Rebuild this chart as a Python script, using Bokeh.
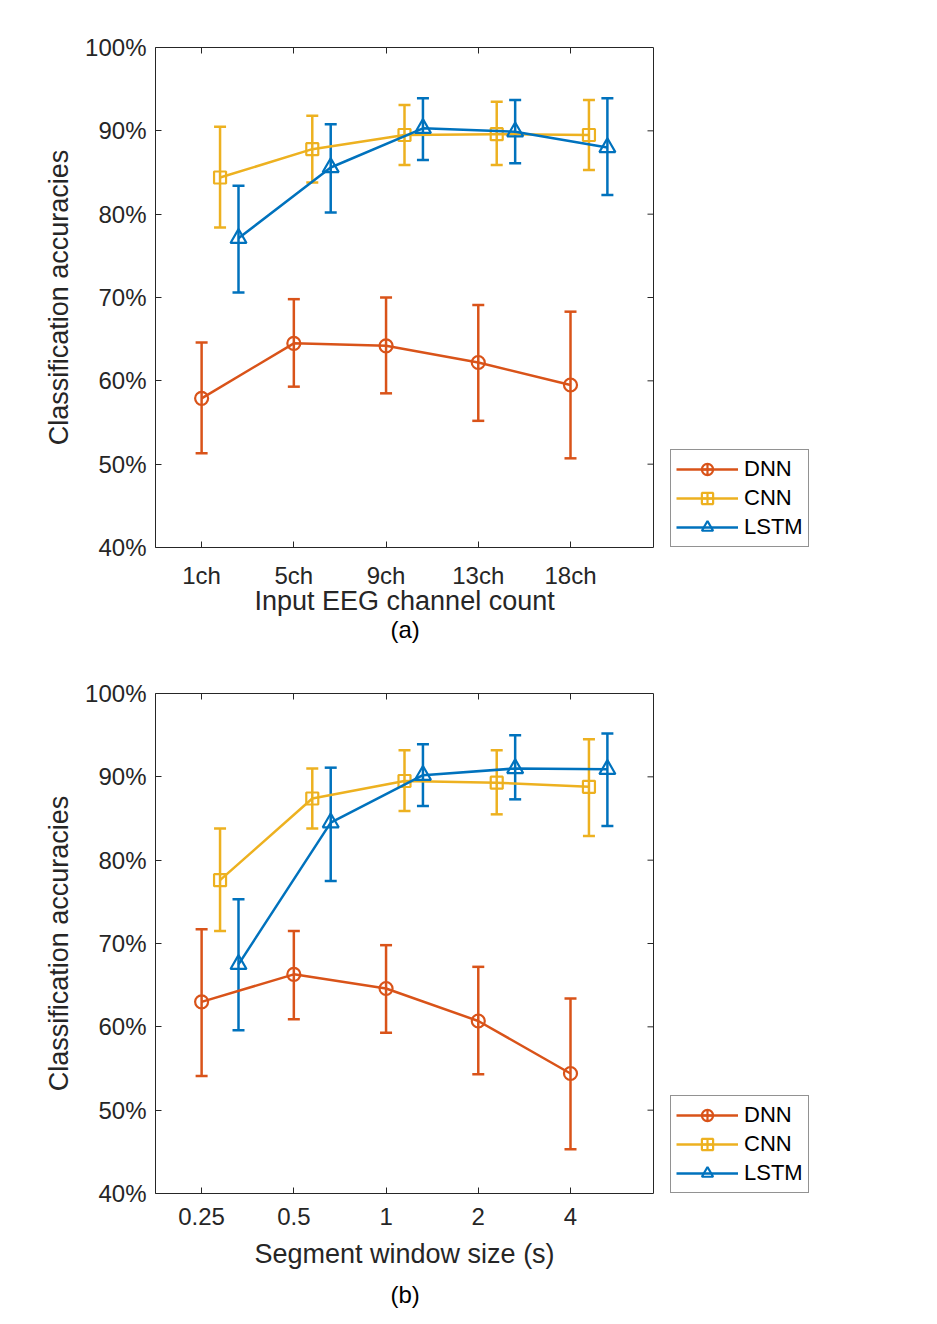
import math
from bokeh.plotting import figure
from bokeh.models import (ColumnDataSource, Whisker, TeeHead, FixedTicker, Range1d,
                          LinearAxis, Legend, LegendItem, Title, PrintfTickFormatter,
                          CustomJSTickFormatter)
from bokeh.layouts import column
from bokeh.embed import file_html
from bokeh.resources import INLINE

# ---------------- data ----------------
positions = [1, 2, 3, 4, 5]
series_names = ["DNN", "CNN", "LSTM"]

labels_a = ["1ch", "5ch", "9ch", "13ch", "18ch"]
dnn_a = [57.9, 64.5, 64.2, 62.2, 59.5]
dnn_a_lo = [51.3, 59.3, 58.5, 55.2, 50.7]
dnn_a_hi = [64.6, 69.8, 70.0, 69.1, 68.3]
cnn_a = [84.4, 87.8, 89.5, 89.6, 89.5]
cnn_a_lo = [78.4, 83.8, 85.9, 85.9, 85.3]
cnn_a_hi = [90.5, 91.8, 93.1, 93.5, 93.7]
lstm_a = [77.1, 85.6, 90.3, 89.9, 88.0]
lstm_a_lo = [70.6, 80.2, 86.5, 86.1, 82.3]
lstm_a_hi = [83.4, 90.8, 93.9, 93.7, 93.9]

labels_b = ["0.25", "0.5", "1", "2", "4"]
dnn_b = [63.0, 66.3, 64.6, 60.7, 54.4]
dnn_b_lo = [54.1, 60.9, 59.3, 54.3, 45.3]
dnn_b_hi = [71.7, 71.5, 69.8, 67.2, 63.4]
cnn_b = [77.6, 87.4, 89.5, 89.3, 88.8]
cnn_b_lo = [71.5, 83.8, 85.9, 85.5, 82.9]
cnn_b_hi = [83.8, 91.0, 93.2, 93.2, 94.5]
lstm_b = [67.5, 84.5, 90.2, 91.0, 90.9]
lstm_b_lo = [59.6, 77.5, 86.5, 87.3, 84.1]
lstm_b_hi = [75.3, 91.1, 93.9, 95.0, 95.2]

y_ticks = [40, 50, 60, 70, 80, 90, 100]
offsets = [0.0, 0.2, 0.4]
colors = ["#D95319", "#EDB120", "#0072BD"]
markers = ["circle", "square", "triangle"]
legend_markers = ["circle_cross", "square_cross", "triangle"]
marker_sizes = [13, 12, 16]

FONT = "Liberation Sans"
AX = "#262626"

X0, X1 = 0.5, 5.9          # axes box limits
BOX_W, FRAME_W = 498, 660  # box width in px, frame width incl. legend area
X_END = X0 + (X1 - X0) * FRAME_W / BOX_W
NAN = float("nan")


def make_panel(labels, xlabel, tag, series, top_border, bottom_border,
               xlabel_standoff, tag_standoff):
    p = figure(frame_width=FRAME_W, frame_height=500,
               x_range=Range1d(X0, X_END), y_range=Range1d(40, 100),
               output_backend="svg", toolbar_location=None,
               min_border_left=155, min_border_right=10,
               min_border_top=top_border, min_border_bottom=bottom_border)
    p.xgrid.visible = False
    p.ygrid.visible = False
    p.outline_line_color = None
    p.background_fill_color = "white"
    p.border_fill_color = "white"

    # main axes
    p.xaxis.ticker = FixedTicker(ticks=positions)
    p.xaxis.bounds = (X0, X1)
    p.xaxis.major_label_overrides = {pos: lab for pos, lab in zip(positions, labels)}
    p.yaxis.ticker = FixedTicker(ticks=y_ticks)
    p.yaxis.formatter = PrintfTickFormatter(format="%d%%")
    for ax in (p.xaxis[0], p.yaxis[0]):
        ax.axis_line_color = AX
        ax.major_tick_line_color = AX
        ax.major_tick_in = 6
        ax.major_tick_out = 0
        ax.minor_tick_line_color = None
        ax.major_label_text_font = FONT
        ax.major_label_text_font_size = "24px"
        ax.major_label_text_color = AX
        ax.axis_label_text_font = FONT
        ax.axis_label_text_font_size = "27px"
        ax.axis_label_text_font_style = "normal"
        ax.axis_label_text_color = AX
    p.xaxis.major_label_standoff = 14
    p.yaxis.major_label_standoff = 9
    p.yaxis.axis_label = "Classification accuracies"
    p.yaxis.axis_label_standoff = 8

    # top edge of the box with inward ticks, no labels
    blank = CustomJSTickFormatter(code="return ''")
    top = LinearAxis(ticker=FixedTicker(ticks=positions), formatter=blank,
                     bounds=(X0, X1), axis_line_color=AX, major_tick_line_color=AX,
                     major_tick_in=6, major_tick_out=0,
                     minor_tick_line_color=None, major_label_standoff=0)
    p.add_layout(top, "above")
    # right edge of the box with inward ticks
    p.segment(x0=[X1], y0=[y_ticks[0]], x1=[X1], y1=[y_ticks[-1]],
              line_color=AX, line_width=1)
    p.ray(x=[X1] * len(y_ticks), y=y_ticks, length=6, length_units="screen",
          angle=math.pi, line_color=AX, line_width=1)

    items = []
    for k, (name, (mean, lo, hi)) in enumerate(zip(series_names, series)):
        xs = [x + offsets[k] for x in positions]
        src = ColumnDataSource(dict(x=xs, y=mean, lo=lo, hi=hi))
        c = colors[k]
        p.line("x", "y", source=src, line_color=c, line_width=2.5)
        w = Whisker(source=src, base="x", lower="lo", upper="hi",
                    line_color=c, line_width=2.5,
                    upper_head=TeeHead(size=12, line_color=c, line_width=2.5),
                    lower_head=TeeHead(size=12, line_color=c, line_width=2.5))
        p.add_layout(w)
        p.scatter("x", "y", source=src, marker=markers[k], size=marker_sizes[k],
                  line_color=c, line_width=2.2, fill_alpha=0)
        # legend-only renderers (no visible data)
        dummy = ColumnDataSource(dict(x=[NAN], y=[NAN]))
        r1 = p.line("x", "y", source=dummy, line_color=c, line_width=2.5)
        r2 = p.scatter("x", "y", source=dummy, marker=legend_markers[k],
                       line_color=c, line_width=2.2, fill_alpha=0)
        items.append(LegendItem(label=name, renderers=[r1, r2]))

    leg = Legend(items=items, location=(515, 0),
                 glyph_width=62, glyph_height=28, label_height=28,
                 label_standoff=6, spacing=1, padding=5, margin=0,
                 label_text_font=FONT, label_text_font_size="22px",
                 label_text_color="#000000",
                 border_line_color=AX, border_line_width=1,
                 background_fill_color="white", background_fill_alpha=1)
    p.add_layout(leg, "center")

    # x-axis title (centred under the axes box, not under the legend area)
    xt = Title(text=xlabel, align="left", offset=99, text_font=FONT,
               text_font_size="27px", text_font_style="normal",
               text_color=AX, standoff=xlabel_standoff)
    p.add_layout(xt, "below")
    t = Title(text=tag, align="left", offset=235, text_font=FONT,
              text_font_size="24px", text_font_style="normal",
              text_color="#000000", standoff=tag_standoff)
    p.add_layout(t, "below")
    return p


pa = make_panel(labels_a, "Input EEG channel count", "(a)",
                [(dnn_a, dnn_a_lo, dnn_a_hi), (cnn_a, cnn_a_lo, cnn_a_hi),
                 (lstm_a, lstm_a_lo, lstm_a_hi)], 47, 110, -15, 11)
pb = make_panel(labels_b, "Segment window size (s)", "(b)",
                [(dnn_b, dnn_b_lo, dnn_b_hi), (cnn_b, cnn_b_lo, cnn_b_hi),
                 (lstm_b, lstm_b_lo, lstm_b_hi)], 36, 110, 18, 2)

layout = column(pa, pb, spacing=0)
open("out.html", "w").write(file_html(layout, INLINE))
